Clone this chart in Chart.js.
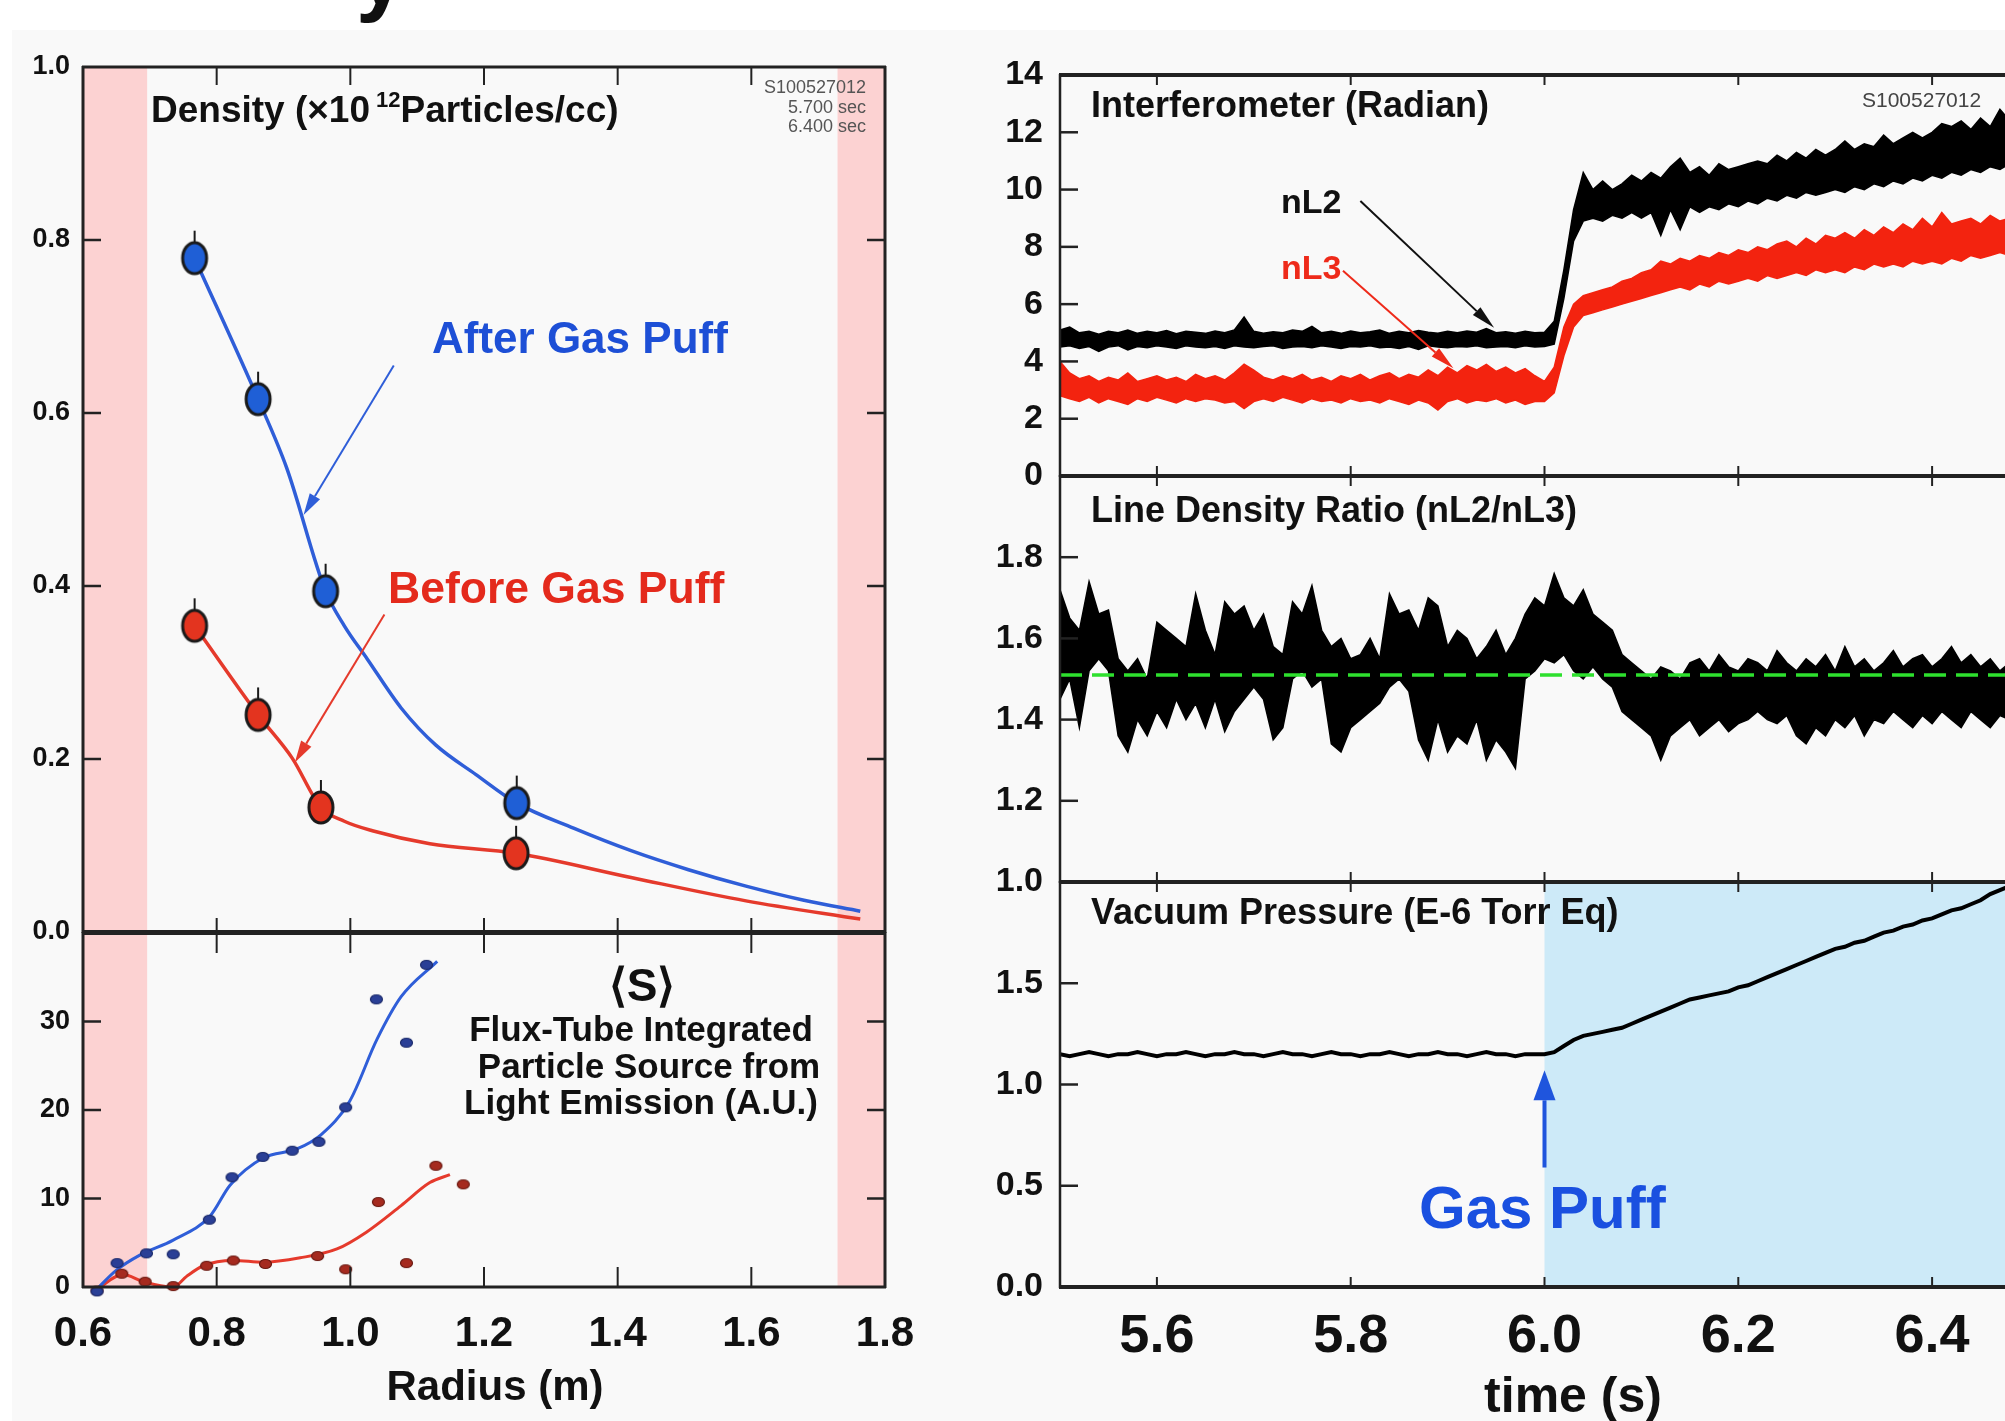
<!DOCTYPE html>
<html>
<head>
<meta charset="utf-8">
<script src="https://cdn.jsdelivr.net/npm/chart.js@4.4.1/dist/chart.umd.min.js"></script>
<style>
  body { margin: 0; width: 2005px; height: 1421px; overflow: hidden; position: relative; background: #fff;
         font-family: "Liberation Sans", Arial, Helvetica, sans-serif; }
  #bg { position: absolute; left: 12px; top: 30px; right: 0; bottom: 0; background: #f9f9f9; }
  canvas { position: absolute; }
  .t { position: absolute; line-height: 1; white-space: nowrap; font-weight: bold; color: #111; }
</style>
</head>
<body>
<div id="bg"></div>
<canvas id="lu" width="930" height="932" style="left:0;top:30px"></canvas>
<canvas id="ll" width="930" height="525" style="left:0;top:896px"></canvas>
<canvas id="rt" width="1060" height="464" style="left:990px;top:40px"></canvas>
<canvas id="rm" width="1060" height="466" style="left:990px;top:444px"></canvas>
<canvas id="rb" width="1060" height="571" style="left:990px;top:850px"></canvas>

<div class="t" style="left:356px;top:-72px;font-size:90px">y</div>
<div class="t" style="left:151px;top:91px;font-size:37px">Density (×10<span style="font-size:22px;position:relative;top:-15px;margin-left:6px">12</span>Particles/cc)</div>
<div class="t" style="left:700px;top:78px;width:166px;text-align:right;font-size:18px;line-height:19.5px;font-weight:normal;color:#555">S100527012<br>5.700 sec<br>6.400 sec</div>
<div class="t" style="left:432px;top:316px;font-size:44px;color:#1d4fd6">After Gas Puff</div>
<div class="t" style="left:388px;top:566px;font-size:44.5px;color:#e42a1c">Before Gas Puff</div>
<div class="t" style="left:542px;top:962px;width:200px;text-align:center;font-size:46px">⟨S⟩</div>
<div class="t" style="left:441px;top:1011px;width:400px;text-align:center;font-size:35px">Flux-Tube Integrated</div>
<div class="t" style="left:449px;top:1048px;width:400px;text-align:center;font-size:35px">Particle Source from</div>
<div class="t" style="left:441px;top:1084px;width:400px;text-align:center;font-size:35px">Light Emission (A.U.)</div>
<div class="t" style="left:295px;top:1365px;width:400px;text-align:center;font-size:42px">Radius (m)</div>

<div class="t" style="left:1091px;top:87px;font-size:36px">Interferometer (Radian)</div>
<div class="t" style="left:1862px;top:89px;font-size:21px;font-weight:normal;color:#444">S100527012</div>
<div class="t" style="left:1281px;top:184px;font-size:34px">nL2</div>
<div class="t" style="left:1281px;top:250px;font-size:34px;color:#ee2a1a">nL3</div>
<div class="t" style="left:1091px;top:492px;font-size:36px">Line Density Ratio (nL2/nL3)</div>
<div class="t" style="left:1091px;top:894px;font-size:36px">Vacuum Pressure (E-6 Torr Eq)</div>
<div class="t" style="left:1419px;top:1178px;font-size:60px;color:#1a50e0">Gas Puff</div>
<div class="t" style="left:1373px;top:1370px;width:400px;text-align:center;font-size:50px">time (s)</div>

<script>
// ---- left: density profiles (radius in m, density in 1e12 /cc)
const R_AFTER = [0.767, 0.862, 0.963, 1.249];
const N_AFTER = [0.779, 0.616, 0.394, 0.149];
const R_BEFORE = [0.767, 0.862, 0.956, 1.248];
const N_BEFORE = [0.354, 0.251, 0.144, 0.091];

const FIT_R_AFTER = [0.767, 0.862, 0.905, 0.963, 0.991, 1.025, 1.076, 1.128, 1.188, 1.249, 1.334, 1.42, 1.506, 1.592, 1.677, 1.763];
const FIT_AFTER = [0.779, 0.616, 0.536, 0.394, 0.354, 0.316, 0.259, 0.216, 0.182, 0.149, 0.12, 0.094, 0.072, 0.053, 0.037, 0.024];
const FIT_R_BEFORE = [0.767, 0.862, 0.913, 0.956, 0.991, 1.033, 1.119, 1.248, 1.42, 1.592, 1.763];
const FIT_BEFORE = [0.354, 0.251, 0.201, 0.144, 0.128, 0.117, 0.102, 0.091, 0.063, 0.036, 0.015];

// ---- left: particle source <S>
const S_R_AFTER = [0.621, 0.651, 0.695, 0.735, 0.789, 0.823, 0.869, 0.913, 0.953, 0.993, 1.039, 1.084, 1.114];
const S_AFTER = [-0.5, 2.7, 3.8, 3.7, 7.6, 12.4, 14.7, 15.4, 16.4, 20.3, 32.5, 27.6, 36.4];
const S_R_BEFORE = [0.621, 0.658, 0.693, 0.735, 0.785, 0.825, 0.873, 0.951, 0.993, 1.042, 1.084, 1.128, 1.169];
const S_BEFORE = [-0.4, 1.5, 0.6, 0.1, 2.4, 3.0, 2.6, 3.5, 2.0, 9.6, 2.7, 13.7, 11.6];
const SFIT_R_AFTER = [0.62, 0.65, 0.685, 0.735, 0.79, 0.82, 0.87, 0.92, 0.956, 0.999, 1.04, 1.076, 1.13];
const SFIT_AFTER = [-0.3, 1.9, 3.6, 5.3, 8.0, 11.5, 14.6, 15.6, 17.2, 21.0, 28.0, 32.8, 36.8];
const SFIT_R_BEFORE = [0.62, 0.66, 0.69, 0.735, 0.755, 0.78, 0.825, 0.87, 0.925, 0.98, 1.024, 1.076, 1.119, 1.149];
const SFIT_BEFORE = [-0.3, 1.4, 0.6, 0.0, 1.2, 2.4, 3.0, 2.8, 3.3, 4.3, 6.2, 9.2, 11.8, 12.7];

// ---- right: time traces, one sample every 10 ms
const TIME = [5.50, 5.51, 5.52, 5.53, 5.54, 5.55, 5.56, 5.57, 5.58, 5.59,
  5.60, 5.61, 5.62, 5.63, 5.64, 5.65, 5.66, 5.67, 5.68, 5.69,
  5.70, 5.71, 5.72, 5.73, 5.74, 5.75, 5.76, 5.77, 5.78, 5.79,
  5.80, 5.81, 5.82, 5.83, 5.84, 5.85, 5.86, 5.87, 5.88, 5.89,
  5.90, 5.91, 5.92, 5.93, 5.94, 5.95, 5.96, 5.97, 5.98, 5.99,
  6.00, 6.01, 6.02, 6.03, 6.04, 6.05, 6.06, 6.07, 6.08, 6.09,
  6.10, 6.11, 6.12, 6.13, 6.14, 6.15, 6.16, 6.17, 6.18, 6.19,
  6.20, 6.21, 6.22, 6.23, 6.24, 6.25, 6.26, 6.27, 6.28, 6.29,
  6.30, 6.31, 6.32, 6.33, 6.34, 6.35, 6.36, 6.37, 6.38, 6.39,
  6.40, 6.41, 6.42, 6.43, 6.44, 6.45, 6.46, 6.47, 6.48];

// interferometer: upper / lower edge of the noisy band
const NL2_HI = [5.10, 5.20, 5.00, 5.05, 4.95, 5.05, 5.00, 5.10, 4.98, 5.05,
  5.00, 5.08, 4.97, 5.05, 5.02, 4.98, 5.06, 5.00, 5.10, 5.55,
  5.05, 4.98, 5.04, 5.00, 5.10, 5.05, 5.22, 5.00, 5.05, 4.98,
  5.06, 5.00, 5.04, 5.10, 4.98, 5.05, 5.00, 5.08, 5.02, 4.98,
  5.05, 5.00, 5.06, 5.02, 5.15, 5.00, 5.04, 4.98, 5.05, 5.00,
  5.02, 5.40, 7.20, 9.30, 10.60, 10.00, 10.30, 10.00, 10.20, 10.50,
  10.30, 10.60, 10.40, 10.80, 11.10, 10.60, 10.80, 10.50, 10.90, 10.70,
  10.80, 10.90, 11.00, 10.90, 11.20, 11.00, 11.30, 11.10, 11.40, 11.20,
  11.40, 11.70, 11.40, 11.60, 11.50, 11.90, 11.60, 11.80, 12.00, 11.80,
  12.00, 12.30, 12.20, 12.40, 12.10, 12.50, 12.20, 12.80, 12.40];
const NL2_LO = [4.50, 4.55, 4.45, 4.52, 4.35, 4.50, 4.55, 4.40, 4.52, 4.48,
  4.55, 4.50, 4.45, 4.55, 4.50, 4.48, 4.52, 4.45, 4.55, 4.50,
  4.48, 4.52, 4.55, 4.45, 4.50, 4.52, 4.48, 4.55, 4.50, 4.45,
  4.52, 4.50, 4.55, 4.48, 4.50, 4.45, 4.52, 4.42, 4.55, 4.50,
  4.48, 4.52, 4.50, 4.55, 4.48, 4.50, 4.52, 4.48, 4.55, 4.50,
  4.52, 4.60, 6.20, 8.20, 8.90, 9.00, 8.90, 9.10, 9.00, 9.20,
  9.00, 9.20, 8.40, 9.30, 8.60, 9.40, 9.20, 9.40, 9.30, 9.50,
  9.40, 9.60, 9.50, 9.70, 9.60, 9.80, 9.70, 9.90, 9.80, 9.90,
  10.00, 9.90, 10.10, 10.00, 10.20, 10.10, 10.30, 10.20, 10.40, 10.30,
  10.50, 10.40, 10.60, 10.50, 10.70, 10.60, 10.80, 10.70, 10.90];
const NL3_HI = [4.00, 3.60, 3.40, 3.50, 3.30, 3.45, 3.35, 3.60, 3.30, 3.40,
  3.50, 3.35, 3.45, 3.30, 3.55, 3.40, 3.50, 3.35, 3.60, 3.90,
  3.70, 3.45, 3.35, 3.50, 3.40, 3.55, 3.35, 3.45, 3.30, 3.50,
  3.40, 3.55, 3.35, 3.50, 3.60, 3.40, 3.55, 3.45, 3.70, 3.50,
  3.80, 3.60, 3.85, 3.70, 3.90, 3.65, 3.80, 3.60, 3.75, 3.50,
  3.30, 3.80, 5.20, 6.00, 6.30, 6.40, 6.50, 6.60, 6.80, 6.90,
  7.10, 7.20, 7.50, 7.40, 7.60, 7.50, 7.70, 7.60, 7.80, 7.70,
  7.90, 7.80, 8.00, 7.90, 8.10, 8.20, 8.00, 8.30, 8.10, 8.40,
  8.30, 8.50, 8.30, 8.60, 8.40, 8.70, 8.50, 8.80, 8.60, 9.00,
  8.70, 9.20, 8.80, 8.90, 9.00, 8.80, 9.10, 8.90, 9.00];
const NL3_LO = [2.80, 2.70, 2.60, 2.75, 2.55, 2.70, 2.60, 2.50, 2.70, 2.60,
  2.75, 2.65, 2.55, 2.70, 2.60, 2.70, 2.65, 2.55, 2.60, 2.35,
  2.60, 2.70, 2.60, 2.75, 2.65, 2.55, 2.70, 2.60, 2.65, 2.55,
  2.70, 2.60, 2.65, 2.55, 2.70, 2.60, 2.50, 2.65, 2.55, 2.30,
  2.60, 2.70, 2.55, 2.65, 2.60, 2.70, 2.55, 2.65, 2.50, 2.60,
  2.60, 2.90, 4.20, 5.20, 5.60, 5.70, 5.80, 5.90, 6.00, 6.10,
  6.20, 6.30, 6.40, 6.50, 6.60, 6.50, 6.70, 6.60, 6.80, 6.70,
  6.80, 6.90, 6.80, 7.00, 6.90, 7.00, 7.10, 7.00, 7.20, 7.10,
  7.20, 7.10, 7.30, 7.20, 7.40, 7.30, 7.40, 7.30, 7.50, 7.40,
  7.50, 7.40, 7.60, 7.50, 7.70, 7.60, 7.70, 7.80, 7.70];

// line density ratio nL2/nL3
const RATIO_HI = [1.72, 1.65, 1.62, 1.74, 1.66, 1.67, 1.55, 1.52, 1.55, 1.50,
  1.64, 1.62, 1.60, 1.58, 1.71, 1.62, 1.56, 1.69, 1.66, 1.68,
  1.62, 1.66, 1.58, 1.56, 1.69, 1.66, 1.73, 1.62, 1.58, 1.60,
  1.55, 1.56, 1.60, 1.55, 1.71, 1.66, 1.67, 1.62, 1.70, 1.68,
  1.58, 1.62, 1.60, 1.55, 1.58, 1.62, 1.56, 1.60, 1.66, 1.70,
  1.68, 1.76, 1.70, 1.68, 1.72, 1.66, 1.64, 1.62, 1.56, 1.54,
  1.52, 1.50, 1.53, 1.52, 1.50, 1.54, 1.55, 1.52, 1.56, 1.53,
  1.52, 1.55, 1.54, 1.52, 1.57, 1.54, 1.52, 1.55, 1.53, 1.56,
  1.52, 1.58, 1.53, 1.55, 1.52, 1.54, 1.57, 1.53, 1.55, 1.56,
  1.53, 1.55, 1.58, 1.54, 1.56, 1.53, 1.55, 1.52, 1.54];
const RATIO_LO = [1.45, 1.50, 1.38, 1.52, 1.55, 1.52, 1.36, 1.32, 1.40, 1.36,
  1.42, 1.38, 1.45, 1.40, 1.44, 1.38, 1.45, 1.37, 1.42, 1.45,
  1.48, 1.45, 1.35, 1.38, 1.50, 1.52, 1.48, 1.50, 1.34, 1.32,
  1.38, 1.40, 1.42, 1.44, 1.48, 1.50, 1.47, 1.35, 1.30, 1.40,
  1.32, 1.36, 1.34, 1.40, 1.30, 1.35, 1.32, 1.28, 1.50, 1.52,
  1.55, 1.54, 1.56, 1.52, 1.50, 1.53, 1.50, 1.48, 1.42, 1.40,
  1.38, 1.36, 1.30, 1.36, 1.38, 1.40, 1.36, 1.38, 1.40, 1.37,
  1.39, 1.40, 1.42, 1.40, 1.39, 1.41, 1.36, 1.34, 1.38, 1.36,
  1.40, 1.38, 1.41, 1.36, 1.40, 1.39, 1.42, 1.40, 1.38, 1.41,
  1.39, 1.42, 1.40, 1.38, 1.42, 1.40, 1.38, 1.41, 1.40];
const REF_T = [5.5, 6.5];
const RATIO_REF = [1.51, 1.51];

// vacuum pressure (E-6 Torr eq)
const PRESSURE = [1.15, 1.14, 1.15, 1.16, 1.15, 1.14, 1.15, 1.15, 1.16, 1.15,
  1.14, 1.15, 1.15, 1.16, 1.15, 1.14, 1.15, 1.15, 1.16, 1.15,
  1.15, 1.14, 1.15, 1.16, 1.15, 1.15, 1.14, 1.15, 1.16, 1.15,
  1.15, 1.14, 1.15, 1.15, 1.16, 1.15, 1.14, 1.15, 1.15, 1.16,
  1.15, 1.15, 1.14, 1.15, 1.16, 1.15, 1.15, 1.14, 1.15, 1.15,
  1.15, 1.16, 1.19, 1.22, 1.24, 1.25, 1.26, 1.27, 1.28, 1.30,
  1.32, 1.34, 1.36, 1.38, 1.40, 1.42, 1.43, 1.44, 1.45, 1.46,
  1.48, 1.49, 1.51, 1.53, 1.55, 1.57, 1.59, 1.61, 1.63, 1.65,
  1.67, 1.68, 1.70, 1.71, 1.73, 1.75, 1.76, 1.78, 1.79, 1.81,
  1.82, 1.84, 1.86, 1.87, 1.89, 1.91, 1.94, 1.96, 1.98];

const R_LABELS = [0.6, 0.8, 1.0, 1.2, 1.4, 1.6, 1.8];
const R_TICKS = [0.8, 1.0, 1.2, 1.4, 1.6];
const T_TICKS = [5.6, 5.8, 6.0, 6.2, 6.4];

const FONT = '"Liberation Sans", Arial, Helvetica, sans-serif';
const BLUE = '#2f5ed8', RED = '#e53a2c';

function pts(xs, ys) {
  return xs.map((x, i) => ({ x: x, y: ys[i] }));
}

function marker(rx, ry, fill, stroke, lw, bar) {
  const c = document.createElement('canvas');
  c.width = Math.ceil((rx + lw) * 2 + 2);
  c.height = Math.ceil((ry + lw + bar) * 2 + 2);
  const g = c.getContext('2d');
  const cx = c.width / 2, cy = c.height / 2;
  if (bar) {
    g.strokeStyle = stroke; g.lineWidth = 2;
    g.beginPath(); g.moveTo(cx, cy - ry - bar); g.lineTo(cx, cy - ry); g.stroke();
  }
  g.beginPath();
  g.ellipse(cx, cy, rx, ry, 0, 0, Math.PI * 2);
  g.fillStyle = fill; g.fill();
  g.lineWidth = lw; g.strokeStyle = stroke; g.stroke();
  return c;
}

function arrow(ctx, x1, y1, x2, y2, color, lw, headLen, headW) {
  const a = Math.atan2(y2 - y1, x2 - x1);
  ctx.save();
  ctx.strokeStyle = color; ctx.fillStyle = color; ctx.lineWidth = lw;
  ctx.beginPath();
  ctx.moveTo(x1, y1);
  ctx.lineTo(x2 - headLen * Math.cos(a), y2 - headLen * Math.sin(a));
  ctx.stroke();
  ctx.translate(x2, y2); ctx.rotate(a);
  ctx.beginPath();
  ctx.moveTo(0, 0); ctx.lineTo(-headLen, headW / 2); ctx.lineTo(-headLen, -headW / 2);
  ctx.closePath(); ctx.fill();
  ctx.restore();
}

// shading, border lines, inward ticks and annotation arrows
function framePlugin(o) {
  return {
    id: 'frame',
    beforeDatasetsDraw(chart) {
      const { ctx, chartArea: a, scales: { x } } = chart;
      ctx.save();
      ctx.fillStyle = o.bandColor;
      (o.bands || []).forEach(b => {
        const x1 = x.getPixelForValue(b[0]);
        const x2 = Math.min(x.getPixelForValue(b[1]), a.right);
        ctx.fillRect(x1, a.top, x2 - x1, a.bottom - a.top);
      });
      ctx.restore();
    },
    afterDatasetsDraw(chart) {
      const { ctx, chartArea: a, scales: { x, y } } = chart;
      const e = o.edges;
      ctx.save();
      ctx.strokeStyle = '#222';
      const line = (x1, y1, x2, y2, w) => {
        ctx.lineWidth = w; ctx.beginPath(); ctx.moveTo(x1, y1); ctx.lineTo(x2, y2); ctx.stroke();
      };
      o.xTicks.forEach(v => {
        const p = x.getPixelForValue(v);
        line(p, a.top, p, a.top + o.tickTop, 2);
        line(p, a.bottom, p, a.bottom - o.tickBottom, 2);
      });
      o.yTicks.forEach(v => {
        const p = y.getPixelForValue(v);
        line(a.left, p, a.left + 18, p, 2.5);
        if (o.rightTicks) line(a.right, p, a.right - 18, p, 2.5);
      });
      if (e.top) line(a.left - 1, a.top, a.right + 1, a.top, e.top);
      if (e.bottom) line(a.left - 1, a.bottom, a.right + 1, a.bottom, e.bottom);
      if (e.left) line(a.left, a.top - 1, a.left, a.bottom + 1, e.left);
      if (e.right) line(a.right, a.top - 1, a.right, a.bottom + 1, e.right);
      ctx.restore();
      if (o.extra) o.extra(chart);
    }
  };
}

function yAxis(min, max, step, width, size, pad, hide, digits) {
  return {
    type: 'linear', min: min, max: max,
    afterFit: s => { s.width = width; s.paddingTop = 0; s.paddingBottom = 0; },
    grid: { display: false, drawTicks: false }, border: { display: false },
    ticks: {
      stepSize: step, padding: pad, color: '#111',
      font: { family: FONT, size: size, weight: 'bold' },
      callback: v => (hide !== null && Math.abs(v - hide) < 1e-6) ? '' : v.toFixed(digits)
    }
  };
}

function xHidden(min, max) {
  return { type: 'linear', min: min, max: max, display: false };
}

function xShown(min, max, labels, height, size, pad) {
  return {
    type: 'linear', min: min, max: max,
    afterBuildTicks: s => { s.ticks = labels.map(v => ({ value: v })); },
    afterFit: s => { s.height = height; s.paddingLeft = 0; s.paddingRight = 0; },
    grid: { display: false, drawTicks: false }, border: { display: false },
    ticks: {
      padding: pad, color: '#111', autoSkip: false, maxRotation: 0,
      font: { family: FONT, size: size, weight: 'bold' },
      callback: v => v.toFixed(1)
    }
  };
}

function baseOptions(padding, scales) {
  return {
    responsive: false, animation: false, events: [],
    layout: { padding: padding },
    plugins: { legend: { display: false }, tooltip: { enabled: false } },
    scales: scales
  };
}

const bigBlue = marker(12, 15.5, '#1f5fd6', '#1a1a1a', 3, 12);
const bigRed = marker(12, 15.5, '#e3341f', '#1a1a1a', 3, 12);
const dotBlue = marker(6, 4.5, '#2a3f96', '#1b2a6b', 1.2, 0);
const dotRed = marker(6, 4.5, '#a52a1f', '#6b1a12', 1.2, 0);

const PINK = '#fcd2d2';

new Chart(document.getElementById('lu'), {
  type: 'line',
  data: {
    datasets: [
      { data: pts(R_AFTER, N_AFTER), showLine: false, pointStyle: bigBlue, pointRadius: 10, clip: false },
      { data: pts(R_BEFORE, N_BEFORE), showLine: false, pointStyle: bigRed, pointRadius: 10, clip: false },
      { data: pts(FIT_R_AFTER, FIT_AFTER), borderColor: BLUE, borderWidth: 3.5, pointRadius: 0, cubicInterpolationMode: 'monotone' },
      { data: pts(FIT_R_BEFORE, FIT_BEFORE), borderColor: RED, borderWidth: 3.5, pointRadius: 0, cubicInterpolationMode: 'monotone' }
    ]
  },
  options: baseOptions({ top: 37, right: 45, bottom: 30, left: 0 }, {
    x: xHidden(0.6, 1.8),
    y: yAxis(0, 1, 0.2, 83, 27, 13, null, 1)
  }),
  plugins: [framePlugin({
    bands: [[0.6, 0.696], [1.729, 1.8]], bandColor: PINK,
    edges: { top: 3, left: 3, right: 3, bottom: 4 },
    xTicks: R_TICKS, tickTop: 18, tickBottom: 14,
    yTicks: [0.2, 0.4, 0.6, 0.8], rightTicks: true,
    extra(chart) {
      const { ctx, scales: { x, y } } = chart;
      arrow(ctx, x.getPixelForValue(1.065), y.getPixelForValue(0.655), x.getPixelForValue(0.930), y.getPixelForValue(0.482), BLUE, 2, 22, 12);
      arrow(ctx, x.getPixelForValue(1.051), y.getPixelForValue(0.367), x.getPixelForValue(0.917), y.getPixelForValue(0.196), RED, 2, 22, 12);
    }
  })]
});

new Chart(document.getElementById('ll'), {
  type: 'line',
  data: {
    datasets: [
      { data: pts(S_R_AFTER, S_AFTER), showLine: false, pointStyle: dotBlue, pointRadius: 6, clip: false },
      { data: pts(S_R_BEFORE, S_BEFORE), showLine: false, pointStyle: dotRed, pointRadius: 6, clip: false },
      { data: pts(SFIT_R_AFTER, SFIT_AFTER), borderColor: BLUE, borderWidth: 3, pointRadius: 0, cubicInterpolationMode: 'monotone', clip: false },
      { data: pts(SFIT_R_BEFORE, SFIT_BEFORE), borderColor: RED, borderWidth: 3, pointRadius: 0, cubicInterpolationMode: 'monotone', clip: false }
    ]
  },
  options: baseOptions({ top: 37, right: 45, bottom: 0, left: 0 }, {
    x: xShown(0.6, 1.8, R_LABELS, 134, 42, 22),
    y: yAxis(0, 40, 10, 83, 27, 13, 40, 0)
  }),
  plugins: [framePlugin({
    bands: [[0.6, 0.696], [1.729, 1.8]], bandColor: PINK,
    edges: { top: 4, left: 3, right: 3, bottom: 3 },
    xTicks: R_TICKS, tickTop: 20, tickBottom: 20,
    yTicks: [10, 20, 30], rightTicks: true
  })]
});

new Chart(document.getElementById('rt'), {
  type: 'line',
  data: {
    datasets: [
      { data: pts(TIME, NL2_HI), borderColor: '#000', borderWidth: 1.5, pointRadius: 0 },
      { data: pts(TIME, NL2_LO), borderColor: '#000', borderWidth: 1.5, pointRadius: 0, fill: '-1', backgroundColor: '#000' },
      { data: pts(TIME, NL3_HI), borderColor: '#f3230f', borderWidth: 1.5, pointRadius: 0 },
      { data: pts(TIME, NL3_LO), borderColor: '#f3230f', borderWidth: 1.5, pointRadius: 0, fill: '-1', backgroundColor: '#f3230f' }
    ]
  },
  options: baseOptions({ top: 35, right: 21, bottom: 28, left: 0 }, {
    x: xHidden(5.5, 6.5),
    y: yAxis(0, 14, 2, 70, 34, 17, null, 0)
  }),
  plugins: [framePlugin({
    edges: { top: 4, left: 2.5, bottom: 4 },
    xTicks: T_TICKS, tickTop: 10, tickBottom: 10,
    yTicks: [2, 4, 6, 8, 10, 12],
    extra(chart) {
      const { ctx, scales: { x, y } } = chart;
      arrow(ctx, x.getPixelForValue(5.810), y.getPixelForValue(9.60), x.getPixelForValue(5.948), y.getPixelForValue(5.18), '#111', 2, 24, 11);
      arrow(ctx, x.getPixelForValue(5.792), y.getPixelForValue(7.17), x.getPixelForValue(5.906), y.getPixelForValue(3.76), '#ee2a1a', 2, 24, 11);
    }
  })]
});

new Chart(document.getElementById('rm'), {
  type: 'line',
  data: {
    datasets: [
      { data: pts(REF_T, RATIO_REF), borderColor: '#2ee02e', borderWidth: 3.5, borderDash: [22, 10], pointRadius: 0 },
      { data: pts(TIME, RATIO_HI), borderColor: '#000', borderWidth: 1.5, pointRadius: 0 },
      { data: pts(TIME, RATIO_LO), borderColor: '#000', borderWidth: 1.5, pointRadius: 0, fill: '-1', backgroundColor: '#000' }
    ]
  },
  options: baseOptions({ top: 32, right: 21, bottom: 28, left: 0 }, {
    x: xHidden(5.5, 6.5),
    y: yAxis(1, 2, 0.2, 70, 34, 17, 2, 1)
  }),
  plugins: [framePlugin({
    edges: { top: 4, left: 2.5, bottom: 4 },
    xTicks: T_TICKS, tickTop: 10, tickBottom: 10,
    yTicks: [1.2, 1.4, 1.6, 1.8]
  })]
});

new Chart(document.getElementById('rb'), {
  type: 'line',
  data: {
    datasets: [
      { data: pts(TIME, PRESSURE), borderColor: '#000', borderWidth: 4, pointRadius: 0 }
    ]
  },
  options: baseOptions({ top: 32, right: 21, bottom: 0, left: 0 }, {
    x: xShown(5.5, 6.5, T_TICKS, 134, 54, 18),
    y: yAxis(0, 2, 0.5, 70, 34, 17, 2, 1)
  }),
  plugins: [framePlugin({
    bands: [[6.0, 6.5]], bandColor: '#cdeaf8',
    edges: { top: 4, left: 2.5, bottom: 4 },
    xTicks: T_TICKS, tickTop: 10, tickBottom: 10,
    yTicks: [0.5, 1.0, 1.5],
    extra(chart) {
      const { ctx, scales: { x, y } } = chart;
      arrow(ctx, x.getPixelForValue(6.0), y.getPixelForValue(0.59), x.getPixelForValue(6.0), y.getPixelForValue(1.07), '#1f55dd', 4, 30, 22);
    }
  })]
});
</script>
</body>
</html>
